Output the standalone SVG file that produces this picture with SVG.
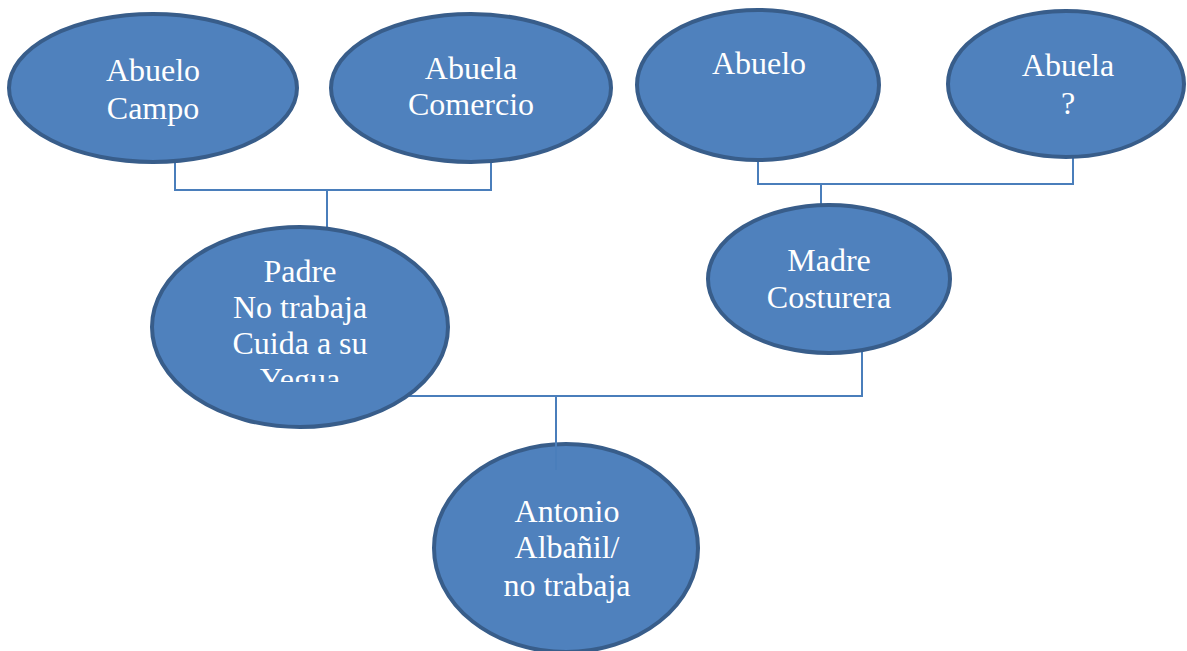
<svg xmlns="http://www.w3.org/2000/svg" width="1187" height="651" viewBox="0 0 1187 651">
<style>
.node{fill:#4f81bd;stroke:#385d8a;stroke-width:4}
.conn{fill:none;stroke:#4a7ebb;stroke-width:2}
text{font-family:"Liberation Serif","Times New Roman",serif;font-size:32px;fill:#ffffff;text-anchor:middle}
</style>
<defs>
<clipPath id="padreClip"><rect x="150" y="220" width="310" height="162"/></clipPath>
</defs>
<rect width="1187" height="651" fill="#ffffff"/>
<g id="antonio">
<ellipse class="node" cx="566" cy="548" rx="132" ry="104"/>
<text x="567" y="522">Antonio</text>
<text x="567" y="558">Albañil/</text>
<text x="567" y="596">no trabaja</text>
</g>
<g id="connectors">
<polyline class="conn" points="175,162 175,190 491,190 491,162"/>
<line class="conn" x1="327" y1="190" x2="327" y2="230"/>
<polyline class="conn" points="758,158 758,184 1073,184 1073,157"/>
<line class="conn" x1="821" y1="184" x2="821" y2="206"/>
<polyline class="conn" points="380,396 862,396 862,352"/>
<line class="conn" x1="556" y1="396" x2="556" y2="470"/>
</g>
<g id="abuelo-campo">
<ellipse class="node" cx="153" cy="88" rx="144" ry="74"/>
<text x="153" y="81">Abuelo</text>
<text x="153" y="119">Campo</text>
</g>
<g id="abuela-comercio">
<ellipse class="node" cx="471" cy="88" rx="140" ry="74"/>
<text x="471" y="79">Abuela</text>
<text x="471" y="115">Comercio</text>
</g>
<g id="abuelo">
<ellipse class="node" cx="758" cy="85" rx="121" ry="75"/>
<text x="759" y="74">Abuelo</text>
</g>
<g id="abuela">
<ellipse class="node" cx="1066" cy="84" rx="118" ry="73"/>
<text x="1068" y="76">Abuela</text>
<text x="1068" y="114">?</text>
</g>
<g id="padre">
<ellipse class="node" cx="300" cy="327" rx="148" ry="100"/>
<g clip-path="url(#padreClip)">
<text x="300" y="282">Padre</text>
<text x="300" y="318">No trabaja</text>
<text x="300" y="354">Cuida a su</text>
<text x="300" y="390">Yegua</text>
</g>
</g>
<g id="madre">
<ellipse class="node" cx="829" cy="279" rx="121" ry="74"/>
<text x="829" y="271">Madre</text>
<text x="829" y="308">Costurera</text>
</g>
</svg>
